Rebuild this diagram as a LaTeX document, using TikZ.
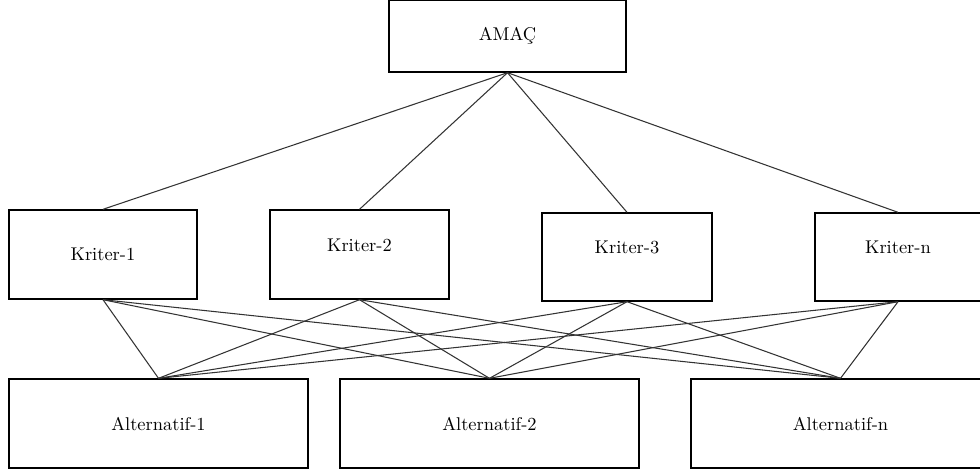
\documentclass[tikz,border=0pt]{standalone}
\usepackage{fontspec}
\usepackage{tikz}
\usetikzlibrary{positioning}

\begin{document}
\begin{tikzpicture}[x=0.02cm, y=-0.02cm,
    box/.style={draw, line width=0.8pt, inner sep=0pt, minimum height=1.78cm,
                font=\fontsize{10.5}{12}\selectfont},
    raised/.style={text depth=0.38cm},
    link/.style={draw=black!80, line width=0.6pt}]
\useasboundingbox (0,0) rectangle (980,471);
\clip (0,0) rectangle (980,471);
% goal
\node[box, minimum width=4.74cm, minimum height=1.44cm] (amac) at (507.5,36) {AMAÇ};
% criteria
\node[box, minimum width=3.76cm] (k1) at (103,254.5) {Kriter-1};
\node[box, raised, minimum width=3.58cm] (k2) at (359.5,254.5) {Kriter-2};
\node[box, raised, minimum width=3.40cm, minimum height=1.76cm] (k3) at (627,257) {Kriter-3};
\node[box, raised, minimum width=3.32cm, minimum height=1.76cm] (kn) at (898,257) {Kriter-n};
% alternatives
\node[box, minimum width=5.98cm] (a1) at (158.5,423.5) {Alternatif-1};
\node[box, minimum width=5.98cm] (a2) at (489.5,423.5) {Alternatif-2};
\node[box, minimum width=5.98cm] (an) at (840.5,423.5) {Alternatif-n};
% links
\foreach \k in {k1,k2,k3,kn}
  \draw[link] (amac.south) -- (\k.north);
\foreach \k in {k1,k2,k3,kn}
  \foreach \a in {a1,a2,an}
    \draw[link] (\k.south) -- (\a.north);
\end{tikzpicture}
\end{document}
